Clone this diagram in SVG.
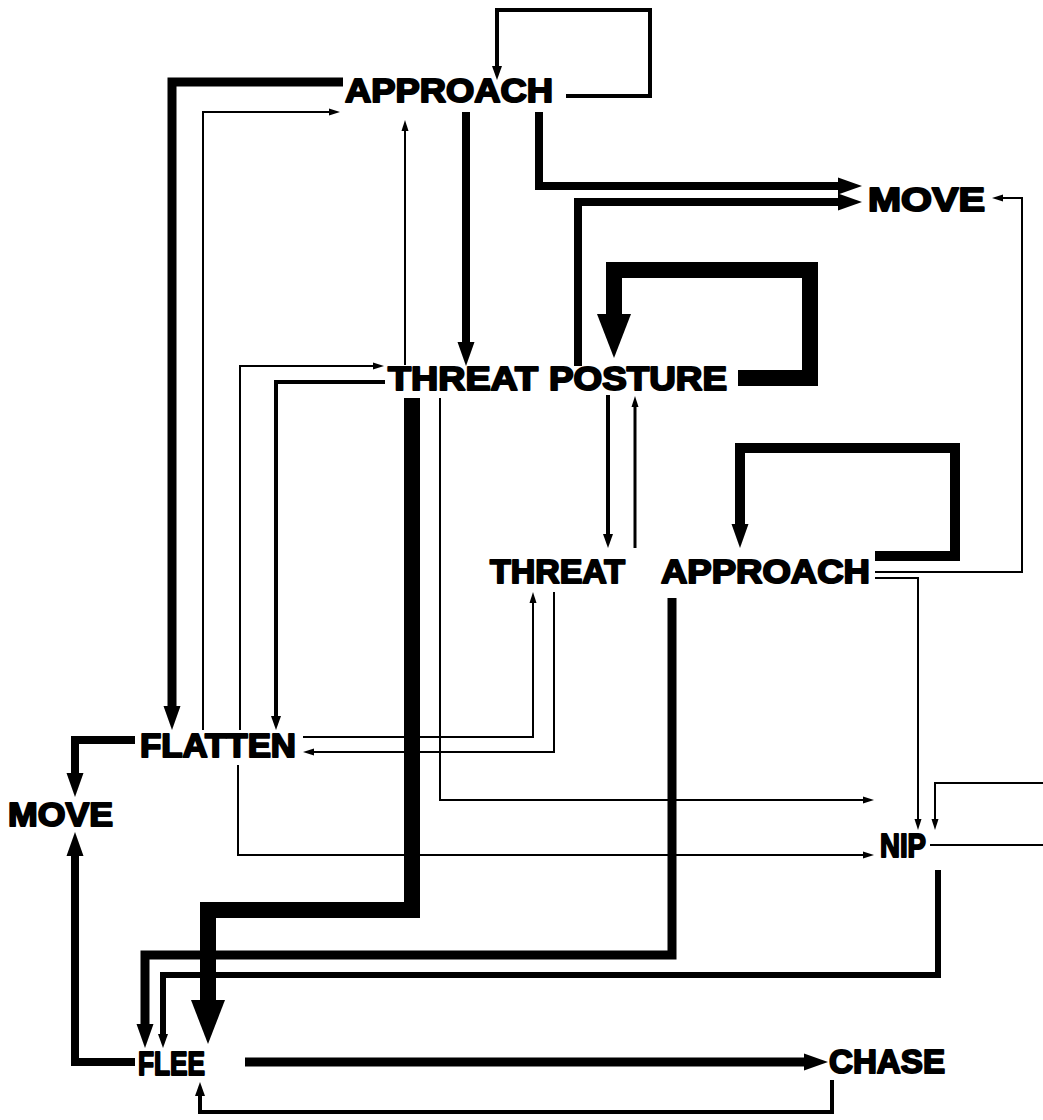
<svg xmlns="http://www.w3.org/2000/svg" width="1043" height="1120" viewBox="0 0 1043 1120">
<style>
.lbl{font-family:"Liberation Sans",Arial,sans-serif;font-weight:900;font-size:34px;fill:#000;stroke:#000;stroke-width:2;stroke-linejoin:round}
.c{fill:none;stroke:#000;stroke-linejoin:miter;stroke-linecap:butt}
.w2{stroke-width:2}.w3{stroke-width:3}.w4{stroke-width:4}.w6{stroke-width:6}.w8{stroke-width:8}.w9{stroke-width:9}.w10{stroke-width:10}.w15{stroke-width:16}
</style>
<defs>
<marker id="a1" markerUnits="userSpaceOnUse" markerWidth="12" markerHeight="8" refX="0" refY="0" orient="auto" overflow="visible"><path d="M0,-3.5 L11,0 L0,3.5 Z" fill="#000"/></marker>
<marker id="a2" markerUnits="userSpaceOnUse" markerWidth="15" markerHeight="12" refX="0" refY="0" orient="auto" overflow="visible"><path d="M0,-5 L14,0 L0,5 Z" fill="#000"/></marker>
<marker id="a3" markerUnits="userSpaceOnUse" markerWidth="26" markerHeight="18" refX="0" refY="0" orient="auto" overflow="visible"><path d="M0,-8.5 L24,0 L0,8.5 Z" fill="#000"/></marker>
<marker id="a4" markerUnits="userSpaceOnUse" markerWidth="46" markerHeight="36" refX="0" refY="0" orient="auto" overflow="visible"><path d="M0,-17 L44,0 L0,17 Z" fill="#000"/></marker>
</defs>
<rect width="1043" height="1120" fill="#fff"/>
<g id="connectors">
<path class="c w4" d="M566,96 H650 V10 H497 V66" marker-end="url(#a2)"/>
<path class="c w8" d="M539,112 V186 H838" marker-end="url(#a3)"/>
<path class="c w8" d="M578,366 V202 H838" marker-end="url(#a3)"/>
<path class="c w9" d="M343,82 H172 V706" marker-end="url(#a3)"/>
<path class="c w2" d="M203,730 V112 H329" marker-end="url(#a1)"/>
<path class="c w2" d="M405,365 V131" marker-end="url(#a1)"/>
<path class="c w8" d="M466,112 V342" marker-end="url(#a3)"/>
<path class="c w15" d="M738,378 H810 V270 H614 V314" marker-end="url(#a4)"/>
<path class="c w2" d="M240,730 V366 H373" marker-end="url(#a1)"/>
<path class="c w4" d="M385,382 H276 V716" marker-end="url(#a2)"/>
<path class="c w15" d="M412,398 V910 H208 V1000" marker-end="url(#a4)"/>
<path class="c w2" d="M440,398 V800 H863" marker-end="url(#a1)"/>
<path class="c w4" d="M608,395 V534" marker-end="url(#a2)"/>
<path class="c w3" d="M635,548 V407" marker-end="url(#a1)"/>
<path class="c w10" d="M875,556 H955 V448 H740 V524" marker-end="url(#a3)"/>
<path class="c w2" d="M875,572 H1022 V198 H1003" marker-end="url(#a1)"/>
<path class="c w2" d="M875,578 H918 V819" marker-end="url(#a1)"/>
<path class="c w9" d="M672,598 V955 H145 V1024" marker-end="url(#a3)"/>
<path class="c w2" d="M303,737 H533 V603" marker-end="url(#a1)"/>
<path class="c w2" d="M554,592 V752 H314" marker-end="url(#a1)"/>
<path class="c w8" d="M135,740 H75 V773" marker-end="url(#a3)"/>
<path class="c w2" d="M238,765 V855 H863" marker-end="url(#a1)"/>
<path class="c w2" d="M1043,783 H935 V819" marker-end="url(#a1)"/>
<path class="c w2" d="M930,845 H1043"/>
<path class="c w6" d="M938,870 V975 H163 V1034" marker-end="url(#a2)"/>
<path class="c w8" d="M135,1062 H75 V856" marker-end="url(#a3)"/>
<path class="c w9" d="M245,1062 H804" marker-end="url(#a3)"/>
<path class="c w4" d="M832,1080 V1112 H200 V1096" marker-end="url(#a2)"/>
</g>
<g id="approach-top"><text class="lbl" x="345" y="102" textLength="208" lengthAdjust="spacingAndGlyphs">APPROACH</text></g>
<g id="move-top"><text class="lbl" x="868" y="211" textLength="117" lengthAdjust="spacingAndGlyphs">MOVE</text></g>
<g id="threat-posture"><text class="lbl" x="388" y="390" textLength="150" lengthAdjust="spacingAndGlyphs">THREAT</text><text class="lbl" x="549" y="390" textLength="178" lengthAdjust="spacingAndGlyphs">POSTURE</text></g>
<g id="threat-approach"><text class="lbl" x="490" y="583" textLength="135" lengthAdjust="spacingAndGlyphs">THREAT</text><text class="lbl" x="661" y="583" textLength="209" lengthAdjust="spacingAndGlyphs">APPROACH</text></g>
<g id="flatten"><text class="lbl" x="140" y="757" textLength="156" lengthAdjust="spacingAndGlyphs">FLATTEN</text></g>
<g id="move-left"><text class="lbl" x="8" y="826" textLength="105" lengthAdjust="spacingAndGlyphs">MOVE</text></g>
<g id="nip"><text class="lbl" x="880" y="857" textLength="46" lengthAdjust="spacingAndGlyphs">NIP</text></g>
<g id="flee"><text class="lbl" x="138" y="1075" textLength="67" lengthAdjust="spacingAndGlyphs">FLEE</text></g>
<g id="chase"><text class="lbl" x="829" y="1073" textLength="116" lengthAdjust="spacingAndGlyphs">CHASE</text></g>
</svg>
